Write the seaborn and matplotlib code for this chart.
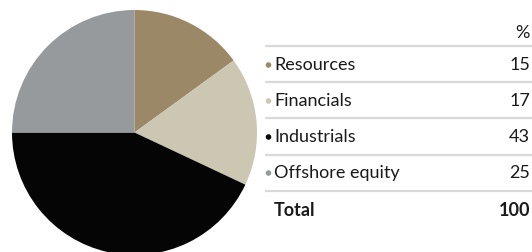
import matplotlib
matplotlib.use("Agg")
import matplotlib.pyplot as plt
import seaborn as sns

sns.set_style("white")
plt.rcParams['font.family'] = ['Lato', 'DejaVu Sans']

categories = ["Resources", "Financials", "Industrials", "Offshore equity"]
values = [15, 17, 43, 25]
colors = ["#9a8866", "#cbc7b2", "#050505", "#969a9c"]

W, H = 532, 252
fig = plt.figure(figsize=(W / 100, H / 100), dpi=100)

# pie
ax = fig.add_axes([12 / W, (H - 255) / H, 245 / W, 245 / H])
ax.pie(values, colors=colors, startangle=90, counterclock=False,
       radius=1, wedgeprops=dict(linewidth=0))
ax.set_xlim(-1, 1)
ax.set_ylim(-1, 1)
ax.set_aspect("equal")
ax.axis("off")

# table
tx = fig.add_axes([0, 0, 1, 1])
tx.set_xlim(0, W)
tx.set_ylim(H, 0)
tx.axis("off")

fs = 13
x0, x1 = 265, 532
xnum = 530
tx.text(xnum, 33, "%", ha="right", va="center", fontsize=fs, color="#1a1a1a")
line_ys = [46, 82, 118, 155, 191]
for y in line_ys:
    tx.plot([x0, x1], [y, y], color="#d9d9d9", lw=1.6, solid_capstyle="butt")
row_ys = [65, 101, 137, 173]
for cat, v, c, y in zip(categories, values, colors, row_ys):
    tx.scatter([268.5], [y], s=16, color=c, edgecolors="none")
    tx.text(274, y, cat, ha="left", va="center", fontsize=fs, color="#1a1a1a")
    tx.text(xnum, y, str(v), ha="right", va="center", fontsize=fs, color="#1a1a1a")
tx.text(274, 210, "Total", ha="left", va="center", fontsize=fs, fontweight="bold", color="#1a1a1a")
tx.text(xnum, 210, str(sum(values)), ha="right", va="center", fontsize=fs, fontweight="bold", color="#1a1a1a")

fig.savefig("out.png", dpi=100)
